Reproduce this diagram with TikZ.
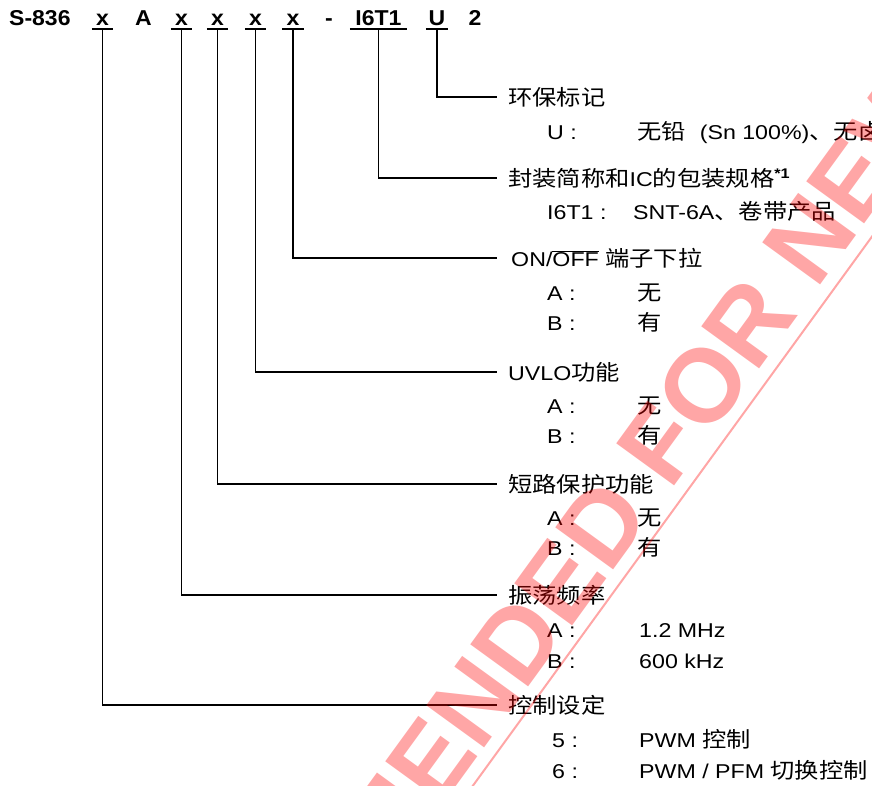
\documentclass[tikz,border=0pt]{standalone}
\usepackage{fontspec}
\setmainfont{Liberation Sans}[FakeStretch=1.16]
\newfontfamily\hdrfont{Liberation Sans}[FakeStretch=1.07]
\newfontfamily\cjk{Noto Sans CJK SC}[FakeStretch=1.13]
\newfontfamily\wmfont{Liberation Sans}
\newcommand\zh[1]{{\cjk\fontsize{21.5}{24}\selectfont #1}}
\begin{document}
\begin{tikzpicture}[x=1pt,y=-1pt,
  every node/.style={inner sep=0pt},
  code/.style={font=\hdrfont\bfseries\fontsize{21.5}{25}\selectfont, anchor=base, text depth=0pt, inner xsep=0pt, inner ysep=4pt},
  lbl/.style={anchor=west, inner xsep=11pt, inner ysep=0pt, text height=17pt, text depth=0pt, font=\fontsize{20}{24}\selectfont},
  sub/.style={anchor=base west, font=\fontsize{20}{24}\selectfont},
  conn/.style={draw=black, line width=1.5pt},
  uline/.style={draw=black, line width=1.5pt},
  wm/.style={font=\wmfont\bfseries\fontsize{104}{104}\selectfont, text=red, text opacity=0.35},
  wmline/.style={draw=red, draw opacity=0.35, line width=2pt}
]
\fill[white] (0,0) rectangle (872,785);
\useasboundingbox (0,0) rectangle (872,785);

% header
\node[code, anchor=base west] (s836) at (9,25) {S-836};
\node[code, minimum width=21pt] (x1) at (102.5,25) {x};
\node[code] (cA) at (143.5,25) {A};
\node[code, minimum width=21pt] (x2) at (181.5,25) {x};
\node[code, minimum width=21pt] (x3) at (217.5,25) {x};
\node[code, minimum width=21pt] (x4) at (255.5,25) {x};
\node[code, minimum width=21pt] (x5) at (293,25) {x};
\node[code] (dash) at (329,25) {-};
\node[code, minimum width=57pt] (pkg) at (378.5,25) {I6T1};
\node[code, minimum width=22pt] (env) at (437,25) {U};
\node[code] (c2) at (475,25) {2};

\foreach \n in {x1,x2,x3,x4,x5,pkg,env}
  \draw[uline] (\n.south west) -- (\n.south east);

% labels
\node[lbl] (lenv) at (497,97) {\zh{环保标记}};
\node[lbl] (lpkg) at (497,178) {\zh{封装简称和}IC\zh{的包装规格}\textsuperscript{\textbf{*1}}};
\node[lbl, inner xsep=14pt] (lonoff) at (497,258) {ON/$\overline{\mbox{OFF}}$ \zh{端子下拉}};
\node[lbl] (luvlo) at (497,372) {UVLO\zh{功能}};
\node[lbl] (lshort) at (497,484) {\zh{短路保护功能}};
\node[lbl] (losc) at (497,595) {\zh{振荡频率}};
\node[lbl] (lctl) at (497,705) {\zh{控制设定}};

% connectors
\draw[conn] (env.south) |- (lenv.west);
\draw[conn] (pkg.south) |- (lpkg.west);
\draw[conn] (x5.south) |- (lonoff.west);
\draw[conn] (x4.south) |- (luvlo.west);
\draw[conn] (x3.south) |- (lshort.west);
\draw[conn] (x2.south) |- (losc.west);
\draw[conn] (x1.south) |- (lctl.west);

% sub rows
\node[sub] (kU) at (547,139) {U :};
\node[sub] (vU) at (637,139) {\zh{无铅}\hspace{0.7em}(Sn 100\%)\zh{、无卤素}};
\node[sub] (kP) at (547,219) {I6T1 :};
\node[sub] (vP) at (633,219) {SNT-6A\zh{、卷带产品}};

\node[sub] (kOA) at (547,300) {A :};
\node[sub] (vOA) at (637,300) {\zh{无}};
\node[sub] (kOB) at (547,330) {B :};
\node[sub] (vOB) at (637,330) {\zh{有}};

\node[sub] (kUA) at (547,413) {A :};
\node[sub] (vUA) at (637,413) {\zh{无}};
\node[sub] (kUB) at (547,443) {B :};
\node[sub] (vUB) at (637,443) {\zh{有}};

\node[sub] (kSA) at (547,525) {A :};
\node[sub] (vSA) at (637,525) {\zh{无}};
\node[sub] (kSB) at (547,555) {B :};
\node[sub] (vSB) at (637,555) {\zh{有}};

\node[sub] (kFA) at (547,637) {A :};
\node[sub] (vFA) at (639,637) {1.2 MHz};
\node[sub] (kFB) at (547,668) {B :};
\node[sub] (vFB) at (639,668) {600 kHz};

\node[sub] (kC5) at (552,747) {5 :};
\node[sub] (vC5) at (639,747) {PWM \zh{控制}};
\node[sub] (kC6) at (552,778) {6 :};
\node[sub] (vC6) at (639,778) {PWM / PFM \zh{切换控制}};

% watermark
\coordinate (wmA) at (878.5,227.6);
\coordinate (wmB) at (443.4,826.3);
\draw[wmline] (wmA) -- (wmB);
\node[wm, rotate=54, anchor=base west] (wmtext) at (708,440) {\llap{NOT RECOMMENDED F}OR NEW DESIGN};
\end{tikzpicture}
\end{document}
